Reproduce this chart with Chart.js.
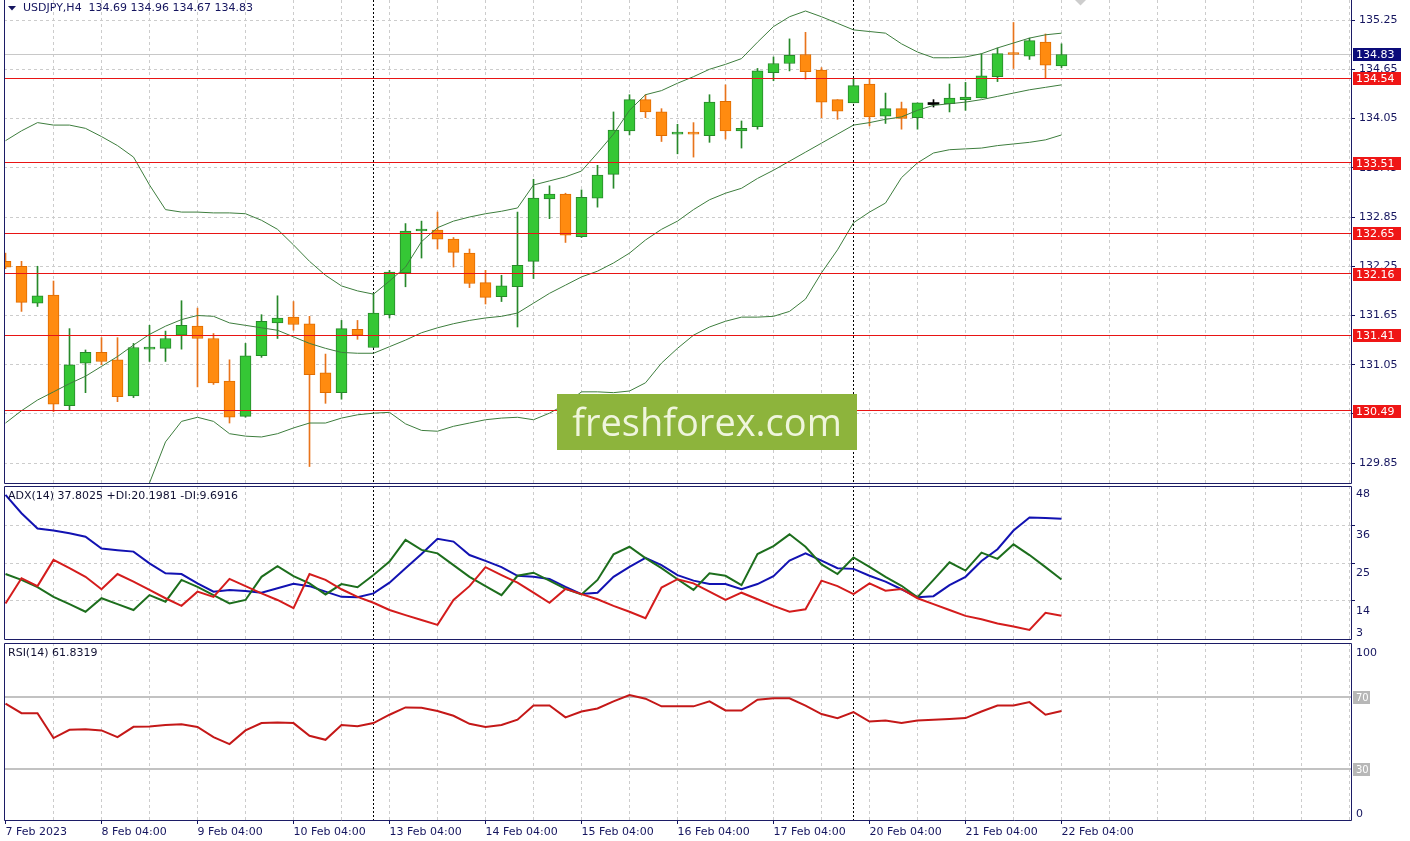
<!DOCTYPE html>
<html>
<head>
<meta charset="utf-8">
<title>USDJPY,H4</title>
<script src="https://cdn.jsdelivr.net/npm/chart.js@4.4.1/dist/chart.umd.min.js"></script>
<style>
  html, body { margin: 0; padding: 0; background: #ffffff; }
  body { position: relative; width: 1410px; height: 841px; overflow: hidden; }
  .pane { position: absolute; left: 0; width: 1410px; }
  #pricePane { top: 0; height: 485px; }
  #adxPane { top: 485px; height: 156px; }
  #rsiPane { top: 642px; height: 199px; }
</style>
</head>
<body>
<div class="pane" id="pricePane"><canvas id="priceChart"></canvas></div>
<div class="pane" id="adxPane"><canvas id="adxChart"></canvas></div>
<div class="pane" id="rsiPane"><canvas id="rsiChart"></canvas></div>
<script>
// USDJPY H4 - candles with Bollinger Bands, ADX(14) and RSI(14) panels (MT4 look)

const symbolTitle = 'USDJPY,H4  134.69 134.96 134.67 134.83';
const adxTitle = 'ADX(14) 37.8025 +DI:20.1981 -DI:9.6916';
const rsiTitle = 'RSI(14) 61.8319';

// time axis: label text and the bar it belongs to
const timeLabels = ['7 Feb 2023', '8 Feb 04:00', '9 Feb 04:00', '10 Feb 04:00', '13 Feb 04:00', '14 Feb 04:00',
    '15 Feb 04:00', '16 Feb 04:00', '17 Feb 04:00', '20 Feb 04:00', '21 Feb 04:00', '22 Feb 04:00'];
const timeLabelBars = [0, 6, 12, 18, 24, 30, 36, 42, 48, 54, 60, 66];
const separatorBars = [23, 53]; // week separators (Monday 00:00)

// OHLC, one entry per 4h bar
const openPrices = [132.31, 132.25, 131.80, 131.90, 130.55, 131.07, 131.20, 131.11, 130.67, 131.24,
    131.25, 131.41, 131.52, 131.37, 130.85, 130.42, 131.16, 131.56, 131.63, 131.55,
    130.95, 130.71, 131.48, 131.26, 131.66, 132.17, 132.68, 132.69, 132.58, 132.41,
    132.05, 131.88, 132.00, 132.31, 133.07, 133.13, 132.61, 133.08, 133.37, 133.90,
    134.28, 134.13, 133.86, 133.87, 133.84, 134.26, 133.90, 133.95, 134.61, 134.72,
    134.83, 134.64, 134.28, 134.24, 134.47, 134.08, 134.17, 134.06, 134.22, 134.23,
    134.28, 134.30, 134.56, 134.84, 134.81, 134.98, 134.69];
const highPrices = [132.41, 132.31, 132.25, 132.07, 131.49, 131.23, 131.38, 131.38, 131.31, 131.53,
    131.46, 131.83, 131.74, 131.43, 131.11, 131.31, 131.66, 131.89, 131.82, 131.64,
    131.18, 131.59, 131.59, 131.92, 132.20, 132.77, 132.80, 132.91, 132.60, 132.46,
    132.20, 132.14, 132.91, 133.31, 133.23, 133.14, 133.18, 133.48, 134.13, 134.34,
    134.34, 134.17, 133.98, 134.00, 134.34, 134.46, 134.02, 134.66, 134.80, 135.02,
    135.10, 134.67, 134.28, 134.53, 134.53, 134.36, 134.25, 134.24, 134.28, 134.47,
    134.49, 134.84, 134.91, 135.22, 135.03, 135.08, 134.96];
const lowPrices = [132.22, 131.70, 131.76, 130.48, 130.50, 130.71, 131.05, 130.60, 130.65, 131.09,
    131.09, 131.24, 130.78, 130.81, 130.34, 130.41, 131.14, 131.37, 131.47, 129.81,
    130.58, 130.63, 131.36, 131.26, 131.62, 132.00, 132.35, 132.46, 132.24, 131.99,
    131.79, 131.82, 131.51, 132.10, 132.83, 132.54, 132.60, 132.97, 133.20, 133.85,
    134.06, 133.77, 133.62, 133.58, 133.76, 133.80, 133.69, 133.92, 134.51, 134.63,
    134.53, 134.06, 134.04, 134.24, 133.96, 133.99, 133.92, 133.92, 134.19, 134.13,
    134.15, 134.30, 134.50, 134.66, 134.77, 134.54, 134.67];
const closePrices = [132.24, 131.81, 131.89, 130.57, 131.05, 131.20, 131.09, 130.66, 131.26, 131.25,
    131.37, 131.53, 131.37, 130.83, 130.41, 131.16, 131.58, 131.62, 131.54, 130.93,
    130.71, 131.49, 131.41, 131.68, 132.18, 132.68, 132.69, 132.58, 132.42, 132.04,
    131.87, 132.01, 132.26, 133.08, 133.13, 132.63, 133.09, 133.36, 133.91, 134.28,
    134.13, 133.84, 133.88, 133.86, 134.25, 133.90, 133.93, 134.63, 134.72, 134.82,
    134.62, 134.25, 134.14, 134.45, 134.07, 134.17, 134.05, 134.24, 134.22, 134.30,
    134.31, 134.57, 134.84, 134.83, 135.00, 134.70, 134.83];

// Bollinger Bands (20)
const upperBand = [133.78, 133.90, 134.00, 133.97, 133.97, 133.93, 133.83, 133.72, 133.58, 133.24,
    132.94, 132.91, 132.91, 132.90, 132.90, 132.89, 132.81, 132.70, 132.51, 132.31,
    132.14, 132.01, 131.95, 131.91, 132.07, 132.24, 132.55, 132.72, 132.80, 132.85,
    132.89, 132.92, 132.96, 133.24, 133.29, 133.34, 133.41, 133.63, 133.86, 134.15,
    134.34, 134.39, 134.48, 134.56, 134.65, 134.71, 134.78, 134.98, 135.17, 135.29,
    135.36, 135.29, 135.21, 135.13, 135.11, 135.09, 134.96, 134.86, 134.79, 134.79,
    134.80, 134.84, 134.91, 134.97, 135.03, 135.07, 135.09];
const middleBand = [130.34, 130.49, 130.62, 130.72, 130.82, 130.91, 131.03, 131.15, 131.29, 131.42,
    131.52, 131.60, 131.65, 131.64, 131.56, 131.53, 131.50, 131.47, 131.39, 131.31,
    131.25, 131.20, 131.19, 131.19, 131.27, 131.35, 131.44, 131.50, 131.55, 131.59,
    131.62, 131.64, 131.68, 131.80, 131.92, 132.02, 132.12, 132.19, 132.29, 132.41,
    132.57, 132.70, 132.80, 132.94, 133.06, 133.14, 133.20, 133.32, 133.42, 133.53,
    133.64, 133.75, 133.86, 133.97, 134.00, 134.04, 134.07, 134.15, 134.21, 134.23,
    134.25, 134.28, 134.32, 134.36, 134.40, 134.43, 134.46];
const lowerBand = [126.92, 127.07, 127.24, 127.46, 127.66, 127.90, 128.24, 128.57, 129.00, 129.61,
    130.11, 130.36, 130.41, 130.36, 130.21, 130.18, 130.17, 130.21, 130.28, 130.34,
    130.34, 130.40, 130.44, 130.46, 130.47, 130.33, 130.25, 130.24, 130.30, 130.34,
    130.38, 130.40, 130.41, 130.38, 130.46, 130.57, 130.72, 130.72, 130.71, 130.73,
    130.83, 131.07, 131.25, 131.41, 131.51, 131.58, 131.63, 131.63, 131.64, 131.70,
    131.85, 132.17, 132.45, 132.78, 132.91, 133.02, 133.33, 133.51, 133.63, 133.67,
    133.68, 133.69, 133.72, 133.74, 133.76, 133.79, 133.85];

// horizontal support / resistance levels and the current bid
const levelPrices = [134.54, 133.51, 132.65, 132.16, 131.41, 130.49];
const bidPrice = 134.83;
const priceTicks = [135.25, 134.65, 134.05, 133.45, 132.85, 132.25, 131.65, 131.05, 130.45, 129.85];

// ADX(14)
const adxMain = [44.7, 39.4, 35.0, 34.4, 33.6, 32.6, 29.2, 28.7, 28.3, 24.9,
    22.0, 21.8, 19.1, 16.7, 17.2, 16.9, 16.4, 17.7, 19.0, 18.3,
    16.7, 15.2, 15.1, 16.2, 19.3, 23.5, 27.6, 32.0, 31.2, 27.3,
    25.6, 23.8, 21.3, 21.0, 20.4, 18.1, 16.0, 16.4, 21.0, 23.9,
    26.5, 24.4, 21.5, 19.9, 18.9, 18.9, 17.4, 18.9, 21.2, 25.7,
    27.8, 25.7, 23.5, 23.3, 21.3, 19.6, 17.4, 15.1, 15.4, 18.6,
    21.0, 25.6, 29.0, 34.4, 38.2, 38.0, 37.8];
const plusDI = [21.8, 20.1, 18.0, 15.2, 13.1, 10.9, 14.8, 13.1, 11.4, 15.7,
    13.8, 20.1, 18.1, 15.7, 13.3, 14.3, 21.0, 24.1, 21.2, 19.1,
    15.9, 18.9, 18.0, 21.5, 25.4, 31.7, 28.8, 27.8, 24.4, 21.0,
    18.3, 15.7, 21.3, 22.2, 19.9, 17.5, 15.9, 20.1, 27.5, 29.7,
    26.4, 23.5, 20.3, 17.2, 22.0, 21.3, 18.6, 27.6, 29.9, 33.3,
    29.7, 24.6, 21.8, 26.6, 23.9, 21.0, 18.4, 15.1, 20.1, 25.2,
    22.8, 28.0, 26.2, 30.4, 27.3, 23.8, 20.2];
const minusDI = [13.3, 20.6, 18.3, 25.9, 23.5, 21.0, 17.4, 21.8, 19.6, 17.2,
    14.8, 12.6, 16.7, 15.2, 20.4, 18.3, 16.2, 14.3, 11.9, 21.8,
    20.1, 17.4, 15.2, 13.5, 11.4, 9.9, 8.5, 7.1, 14.3, 18.3,
    23.8, 21.5, 19.3, 16.4, 13.5, 17.5, 16.0, 14.5, 12.6, 10.9,
    9.0, 17.9, 20.3, 19.1, 16.7, 14.3, 16.4, 14.5, 12.6, 10.9,
    11.6, 19.9, 18.3, 16.0, 19.1, 17.0, 17.5, 14.8, 13.1, 11.4,
    9.7, 8.7, 7.5, 6.6, 5.6, 10.6, 9.7];
const adxGridLevels = [36, 25, 14];
const adxAxisLabels = [48, 36, 25, 14, 3];

// RSI(14)
const rsiValues = [65.9, 60.6, 60.6, 46.6, 51.2, 51.6, 50.9, 47.1, 52.9, 53.1,
    53.9, 54.4, 52.8, 47.1, 43.2, 50.9, 55.0, 55.4, 55.0, 47.9,
    45.6, 53.9, 53.3, 55.0, 59.7, 63.8, 63.6, 61.8, 59.1, 54.6,
    52.8, 53.9, 56.9, 64.9, 64.9, 58.2, 61.5, 63.2, 67.2, 70.8,
    68.7, 64.4, 64.4, 64.4, 67.2, 62.1, 62.1, 68.1, 68.9, 68.9,
    64.8, 60.1, 57.8, 61.2, 55.9, 56.5, 55.0, 56.5, 56.9, 57.3,
    57.8, 61.5, 64.9, 64.9, 66.8, 59.7, 61.8];
const rsiLevels = [70, 30];
const rsiAxisLabels = [100, 0];

// ---- look ----
const FONT = "'DejaVu Sans', sans-serif";
const NAVY = '#15155f';
const FRAME = '#1c1c66';
const GRID = '#cccccc';
const LEVEL_RED = '#e81414';
const BULL_FILL = '#35c735', BULL_EDGE = '#27882a';
const BEAR_FILL = '#ff8b10', BEAR_EDGE = '#e06c00';
const BAND_COLOR = '#3d7d3d';

// bar i sits at 5.5 + 16*i px, chart area runs from x=4 to x=1351
const X_MIN = -0.09375;
const X_MAX = 84.09375;
const gridBars = [];
for (let b = 0; b <= 84; b += 3) gridBars.push(b);

const labelAt = v => {
    const k = timeLabelBars.indexOf(v);
    return k >= 0 ? timeLabels[k] : '';
};
const crisp = v => Math.floor(v) + 0.5;

function hLine(ctx, x1, x2, y) {
    ctx.beginPath(); ctx.moveTo(x1, y); ctx.lineTo(x2, y); ctx.stroke();
}
function vLine(ctx, x, y1, y2) {
    ctx.beginPath(); ctx.moveTo(x, y1); ctx.lineTo(x, y2); ctx.stroke();
}

function drawSeparators(ctx, a, xScale) {
    ctx.save();
    ctx.strokeStyle = '#000000';
    ctx.lineWidth = 1;
    ctx.setLineDash([2, 2]);
    separatorBars.forEach(b => vLine(ctx, crisp(xScale.getPixelForValue(b)), a.top, a.bottom));
    ctx.restore();
}

function drawFrame(ctx, a, withTop) {
    ctx.save();
    ctx.strokeStyle = FRAME;
    ctx.lineWidth = 1;
    const l = crisp(a.left), r = crisp(a.right);
    const t = Math.round(a.top) + 0.5, b = Math.round(a.bottom) - 0.5;
    ctx.beginPath();
    ctx.moveTo(l, withTop ? t : a.top);
    ctx.lineTo(l, b);
    ctx.lineTo(r, b);
    ctx.lineTo(r, withTop ? t : a.top);
    if (withTop) ctx.lineTo(l, t);
    ctx.stroke();
    ctx.restore();
}

function drawTag(ctx, a, yPix, text, bg, w, size) {
    const top = Math.round(yPix) - 6;
    ctx.fillStyle = bg;
    ctx.fillRect(a.right + 2, top, w, 13);
    ctx.fillStyle = '#ffffff';
    ctx.font = size + 'px ' + FONT;
    ctx.textAlign = 'left';
    ctx.textBaseline = 'middle';
    ctx.fillText(text, a.right + 5, top + 7);
}

function makeXAxis(withLabels) {
    return {
        type: 'linear',
        min: X_MIN,
        max: X_MAX,
        offset: false,
        afterBuildTicks: s => { s.ticks = gridBars.map(v => ({ value: v })); },
        afterFit: s => {
            s.height = withLabels ? 20 : 0;
            s.paddingLeft = 0; s.paddingRight = 0; s.paddingTop = 0; s.paddingBottom = 0;
        },
        grid: {
            offset: false,
            color: c => (c.tick && c.tick.value === 0) ? 'rgba(0,0,0,0)' : GRID,
            lineWidth: 1,
            drawTicks: withLabels,
            tickLength: 3,
            tickColor: c => (c.tick && labelAt(c.tick.value)) ? NAVY : 'rgba(0,0,0,0)'
        },
        border: { display: false, dash: [3, 3] },
        ticks: {
            display: withLabels,
            autoSkip: false,
            maxRotation: 0,
            minRotation: 0,
            align: 'start',
            padding: 2,
            color: NAVY,
            font: { family: FONT, size: 11 },
            callback: v => labelAt(v)
        }
    };
}

function makeYAxis(min, max, tickValues, showLabels, showGrid) {
    return {
        type: 'linear',
        position: 'right',
        min: min,
        max: max,
        afterBuildTicks: s => { s.ticks = tickValues.map(v => ({ value: v })); },
        afterFit: s => {
            s.width = 59;
            s.paddingLeft = 0; s.paddingRight = 0; s.paddingTop = 0; s.paddingBottom = 0;
        },
        grid: {
            display: showGrid,
            color: GRID,
            lineWidth: 1,
            drawTicks: true,
            tickLength: 4,
            tickColor: NAVY
        },
        border: { display: false, dash: [3, 3] },
        ticks: {
            display: showLabels,
            autoSkip: false,
            padding: 4,
            color: NAVY,
            font: { family: FONT, size: 11 },
            callback: v => v.toFixed(2)
        }
    };
}

const baseOptions = {
    responsive: true,
    maintainAspectRatio: false,
    animation: false,
    events: [],
    plugins: { legend: { display: false }, tooltip: { enabled: false } }
};

function candleKind(i) {
    if (closePrices[i] > openPrices[i]) return 'bull';
    if (closePrices[i] < openPrices[i]) return 'bear';
    return 'flat';
}

// ---- price panel ----
const pricePanel = {
    id: 'pricePanel',
    beforeDatasetsDraw(chart) {
        const { ctx, chartArea: a, scales: { x, y } } = chart;
        ctx.save();
        ctx.lineWidth = 1;
        ctx.strokeStyle = '#c8c8c8';
        hLine(ctx, a.left, a.right, crisp(y.getPixelForValue(bidPrice)));
        ctx.restore();
        drawSeparators(ctx, a, x);
    },
    afterDatasetsDraw(chart) {
        const { ctx, chartArea: a, scales: { y } } = chart;
        ctx.save();
        ctx.lineWidth = 1;
        ctx.strokeStyle = LEVEL_RED;
        levelPrices.forEach(p => hLine(ctx, a.left, a.right, crisp(y.getPixelForValue(p))));
        ctx.restore();
    },
    afterDraw(chart) {
        const { ctx, chartArea: a, scales: { y } } = chart;
        drawFrame(ctx, a, false);
        ctx.save();

        // watermark
        ctx.fillStyle = '#8db43c';
        ctx.fillRect(557, 394, 300, 56);
        ctx.fillStyle = 'rgba(246, 250, 232, 0.93)';
        ctx.font = "38px 'Open Sans', sans-serif";
        ctx.textAlign = 'center';
        ctx.textBaseline = 'alphabetic';
        ctx.fillText('freshforex.com', 707, 436);

        // price tags on the right scale
        levelPrices.forEach(p => drawTag(ctx, a, y.getPixelForValue(p), p.toFixed(2), '#ef1616', 48, 11));
        drawTag(ctx, a, y.getPixelForValue(bidPrice), bidPrice.toFixed(2), '#0c0c7a', 48, 11);

        // chart shift marker
        ctx.fillStyle = '#cdcdcd';
        ctx.beginPath();
        ctx.moveTo(1075, 0); ctx.lineTo(1086, 0); ctx.lineTo(1080.5, 5.5); ctx.closePath();
        ctx.fill();

        // title
        ctx.fillStyle = NAVY;
        ctx.beginPath();
        ctx.moveTo(8, 6); ctx.lineTo(16, 6); ctx.lineTo(12, 10.5); ctx.closePath();
        ctx.fill();
        ctx.font = '11px ' + FONT;
        ctx.textAlign = 'left';
        ctx.textBaseline = 'middle';
        ctx.fillText(symbolTitle, 23, 8.5);
        ctx.restore();
    }
};

const barIdx = openPrices.map((_, i) => i);

new Chart(document.getElementById('priceChart'), {
    type: 'bar',
    data: {
        datasets: [
            {
                type: 'line', label: 'Upper band', order: 0,
                data: barIdx.map(i => ({ x: i, y: upperBand[i] })),
                borderColor: BAND_COLOR, borderWidth: 1, pointRadius: 0, tension: 0
            },
            {
                type: 'line', label: 'Middle band', order: 0,
                data: barIdx.map(i => ({ x: i, y: middleBand[i] })),
                borderColor: BAND_COLOR, borderWidth: 1, pointRadius: 0, tension: 0
            },
            {
                type: 'line', label: 'Lower band', order: 0,
                data: barIdx.map(i => ({ x: i, y: lowerBand[i] })),
                borderColor: BAND_COLOR, borderWidth: 1, pointRadius: 0, tension: 0
            },
            {
                type: 'bar', label: 'Body', order: 1, grouped: false,
                data: barIdx.map(i => ({ x: i, y: [openPrices[i], closePrices[i]] })),
                barThickness: 11,
                minBarLength: 2,
                borderSkipped: false,
                borderWidth: c => candleKind(c.dataIndex) === 'flat' ? 0 : 1,
                backgroundColor: c => ({ bull: BULL_FILL, bear: BEAR_FILL, flat: '#000000' })[candleKind(c.dataIndex)],
                borderColor: c => ({ bull: BULL_EDGE, bear: BEAR_EDGE, flat: '#000000' })[candleKind(c.dataIndex)]
            },
            {
                type: 'bar', label: 'Wick', order: 2, grouped: false,
                data: barIdx.map(i => ({ x: i, y: [lowPrices[i], highPrices[i]] })),
                barThickness: 1,
                borderWidth: 0,
                backgroundColor: c => ({ bull: BULL_EDGE, bear: '#e8741c', flat: '#000000' })[candleKind(c.dataIndex)]
            }
        ]
    },
    options: Object.assign({}, baseOptions, {
        layout: { padding: { left: 4, right: 0, top: 0, bottom: 1 } },
        scales: {
            x: makeXAxis(false),
            y: makeYAxis(129.597, 135.494, priceTicks, true, true)
        }
    }),
    plugins: [pricePanel]
});

// ---- indicator panels ----
const indicatorPanel = {
    id: 'indicatorPanel',
    beforeDatasetsDraw(chart, args, opts) {
        const { ctx, chartArea: a, scales: { x, y } } = chart;
        ctx.save();
        ctx.strokeStyle = '#c2c2c2';
        ctx.lineWidth = 2;
        (opts.levels || []).forEach(v => hLine(ctx, a.left, a.right, Math.round(y.getPixelForValue(v)) + 1));
        ctx.restore();
        drawSeparators(ctx, a, x);
    },
    afterDraw(chart, args, opts) {
        const { ctx, chartArea: a, scales: { y } } = chart;
        drawFrame(ctx, a, true);
        ctx.save();
        ctx.font = '11px ' + FONT;
        ctx.textAlign = 'left';
        ctx.textBaseline = 'middle';
        ctx.fillStyle = NAVY;
        (opts.axisLabels || []).forEach(v => {
            const ty = Math.min(y.getPixelForValue(v) + 10.5, a.bottom - 7);
            ctx.fillText(String(v), a.right + 5, ty);
        });
        (opts.levels || []).forEach(v => drawTag(ctx, a, y.getPixelForValue(v) + 1, String(v), '#b7b7b7', 17, 10));
        ctx.fillStyle = '#111133';
        ctx.font = '11px ' + FONT;
        ctx.textAlign = 'left';
        ctx.fillText(opts.title, 8, a.top + 10);
        ctx.restore();
    }
};

function lineSet(label, values, color, order) {
    return {
        type: 'line', label: label, order: order,
        data: values.map((v, i) => ({ x: i, y: v })),
        borderColor: color, borderWidth: 2, pointRadius: 0, tension: 0
    };
}

new Chart(document.getElementById('adxChart'), {
    type: 'line',
    data: {
        datasets: [
            lineSet('ADX', adxMain, '#1212b2', 3),
            lineSet('+DI', plusDI, '#1d6e1d', 2),
            lineSet('-DI', minusDI, '#d41c1c', 1)
        ]
    },
    options: Object.assign({}, baseOptions, {
        layout: { padding: { left: 4, right: 0, top: 1, bottom: 1 } },
        scales: {
            x: makeXAxis(false),
            y: makeYAxis(2.71, 47.29, adxGridLevels, false, true)
        },
        plugins: {
            legend: { display: false },
            tooltip: { enabled: false },
            indicatorPanel: { title: adxTitle, axisLabels: adxAxisLabels, levels: [] }
        }
    }),
    plugins: [indicatorPanel]
});

new Chart(document.getElementById('rsiChart'), {
    type: 'line',
    data: {
        datasets: [lineSet('RSI', rsiValues, '#c41818', 1)]
    },
    options: Object.assign({}, baseOptions, {
        layout: { padding: { left: 4, right: 0, top: 1, bottom: 0 } },
        scales: {
            x: makeXAxis(true),
            y: makeYAxis(0, 100, [], false, false)
        },
        plugins: {
            legend: { display: false },
            tooltip: { enabled: false },
            indicatorPanel: { title: rsiTitle, axisLabels: rsiAxisLabels, levels: rsiLevels }
        }
    }),
    plugins: [indicatorPanel]
});
</script>
</body>
</html>
